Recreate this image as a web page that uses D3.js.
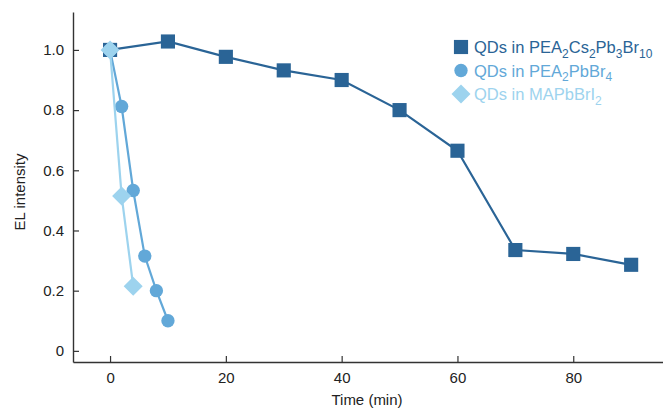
<!DOCTYPE html>
<html>
<head>
<meta charset="utf-8">
<script src="https://cdn.jsdelivr.net/npm/d3@7"></script>
<style>
  body { margin: 0; background: #fff; }
  svg text { font-family: "Liberation Sans", Arial, sans-serif; fill: #222; }
</style>
</head>
<body>
<div class="chart"></div>
<script>
// EL intensity vs time for the three QD films
const timeA = [0, 10, 20, 30, 40, 50, 60, 70, 80, 90];
const valA = [1.0, 1.028, 0.977, 0.932, 0.9, 0.8, 0.665, 0.335, 0.322, 0.286];
const timeB = [0, 2, 4, 6, 8, 10];
const valB = [1.0, 0.812, 0.533, 0.315, 0.2, 0.1];
const timeC = [0, 2, 4];
const valC = [1.0, 0.515, 0.215];
const xTicks = [0, 20, 40, 60, 80];
const yTicks = [0, 0.2, 0.4, 0.6, 0.8, 1.0];

const width = 663, height = 410;

const svg = d3
  .select(".chart")
  .append("svg")
  .attr("width", width)
  .attr("height", height);

// scales span the full axis lines
let x = d3.scaleLinear().domain([-6.4, 95.5]).range([73, 663]);
let y = d3.scaleLinear().domain([-0.037, 1.126]).range([362, 12]);

let xAxis = d3.axisBottom(x).tickValues(xTicks).tickSizeInner(-6).tickSizeOuter(0).tickPadding(10);
let yAxis = d3
  .axisLeft(y)
  .tickValues(yTicks)
  .tickSizeInner(-6)
  .tickSizeOuter(0)
  .tickPadding(9)
  .tickFormat((d) => (d === 0 ? "0" : d3.format(".1f")(d)));

svg.append("g").attr("class", "x-axis").attr("transform", "translate(0,362)").call(xAxis);
svg.append("g").attr("class", "y-axis").attr("transform", "translate(73,0)").call(yAxis);

svg.selectAll(".x-axis path, .y-axis path").attr("stroke", "#333").attr("stroke-width", 1.4);
svg.selectAll(".x-axis line, .y-axis line").attr("stroke", "#333").attr("stroke-width", 1.2);
svg.selectAll(".x-axis text, .y-axis text").style("font-size", "15px").attr("fill", "#222");

// axis titles
svg
  .append("text")
  .attr("x", 367)
  .attr("y", 405)
  .attr("text-anchor", "middle")
  .style("font-size", "15px")
  .text("Time (min)");
svg
  .append("text")
  .attr("transform", "rotate(-90)")
  .attr("x", -192)
  .attr("y", 25)
  .attr("text-anchor", "middle")
  .style("font-size", "15px")
  .text("EL intensity");

const series = [
  { xs: timeA, ys: valA, color: "#2a6496", shape: "square" },
  { xs: timeB, ys: valB, color: "#62a8d8", shape: "circle" },
  { xs: timeC, ys: valC, color: "#9dd3ee", shape: "diamond" },
];

const line = d3
  .line()
  .x((d) => x(d[0]))
  .y((d) => y(d[1]));

function symbolFor(shape) {
  if (shape === "square") return d3.symbol().type(d3.symbolSquare).size(200)();
  if (shape === "circle") return d3.symbol().type(d3.symbolCircle).size(140)();
  return d3.symbol().type(d3.symbolDiamond2).size(230)();
}

series.forEach((s) => {
  const pts = s.xs.map((t, i) => [t, s.ys[i]]);
  svg
    .append("path")
    .datum(pts)
    .attr("fill", "none")
    .attr("stroke", s.color)
    .attr("stroke-width", 2.2)
    .attr("d", line);
  svg
    .selectAll(".pt-" + s.shape)
    .data(pts)
    .enter()
    .append("path")
    .attr("class", "pt-" + s.shape)
    .attr("transform", (d) => `translate(${x(d[0])},${y(d[1])})`)
    .attr("d", symbolFor(s.shape))
    .attr("fill", s.color);
});

// legend with subscripts
const legend = [
  [["QDs in PEA", 0], ["2", 1], ["Cs", 0], ["2", 1], ["Pb", 0], ["3", 1], ["Br", 0], ["10", 1]],
  [["QDs in PEA", 0], ["2", 1], ["PbBr", 0], ["4", 1]],
  [["QDs in MAPbBrI", 0], ["2", 1]],
];

legend.forEach((parts, i) => {
  const yy = 47 + i * 23.5;
  const s = series[i];
  svg
    .append("path")
    .attr("transform", `translate(461,${yy})`)
    .attr("d", symbolFor(s.shape))
    .attr("fill", s.color);
  const t = svg
    .append("text")
    .attr("x", 474)
    .attr("y", yy + 6)
    .style("font-size", "16.5px")
    .style("fill", s.color);
  let down = false;
  parts.forEach((p) => {
    let dy = 0;
    if (p[1] && !down) { dy = 4.5; down = true; }
    if (!p[1] && down) { dy = -4.5; down = false; }
    t.append("tspan")
      .attr("dy", dy)
      .style("font-size", p[1] ? "12px" : "16.5px")
      .text(p[0]);
  });
});
</script>
</body>
</html>
